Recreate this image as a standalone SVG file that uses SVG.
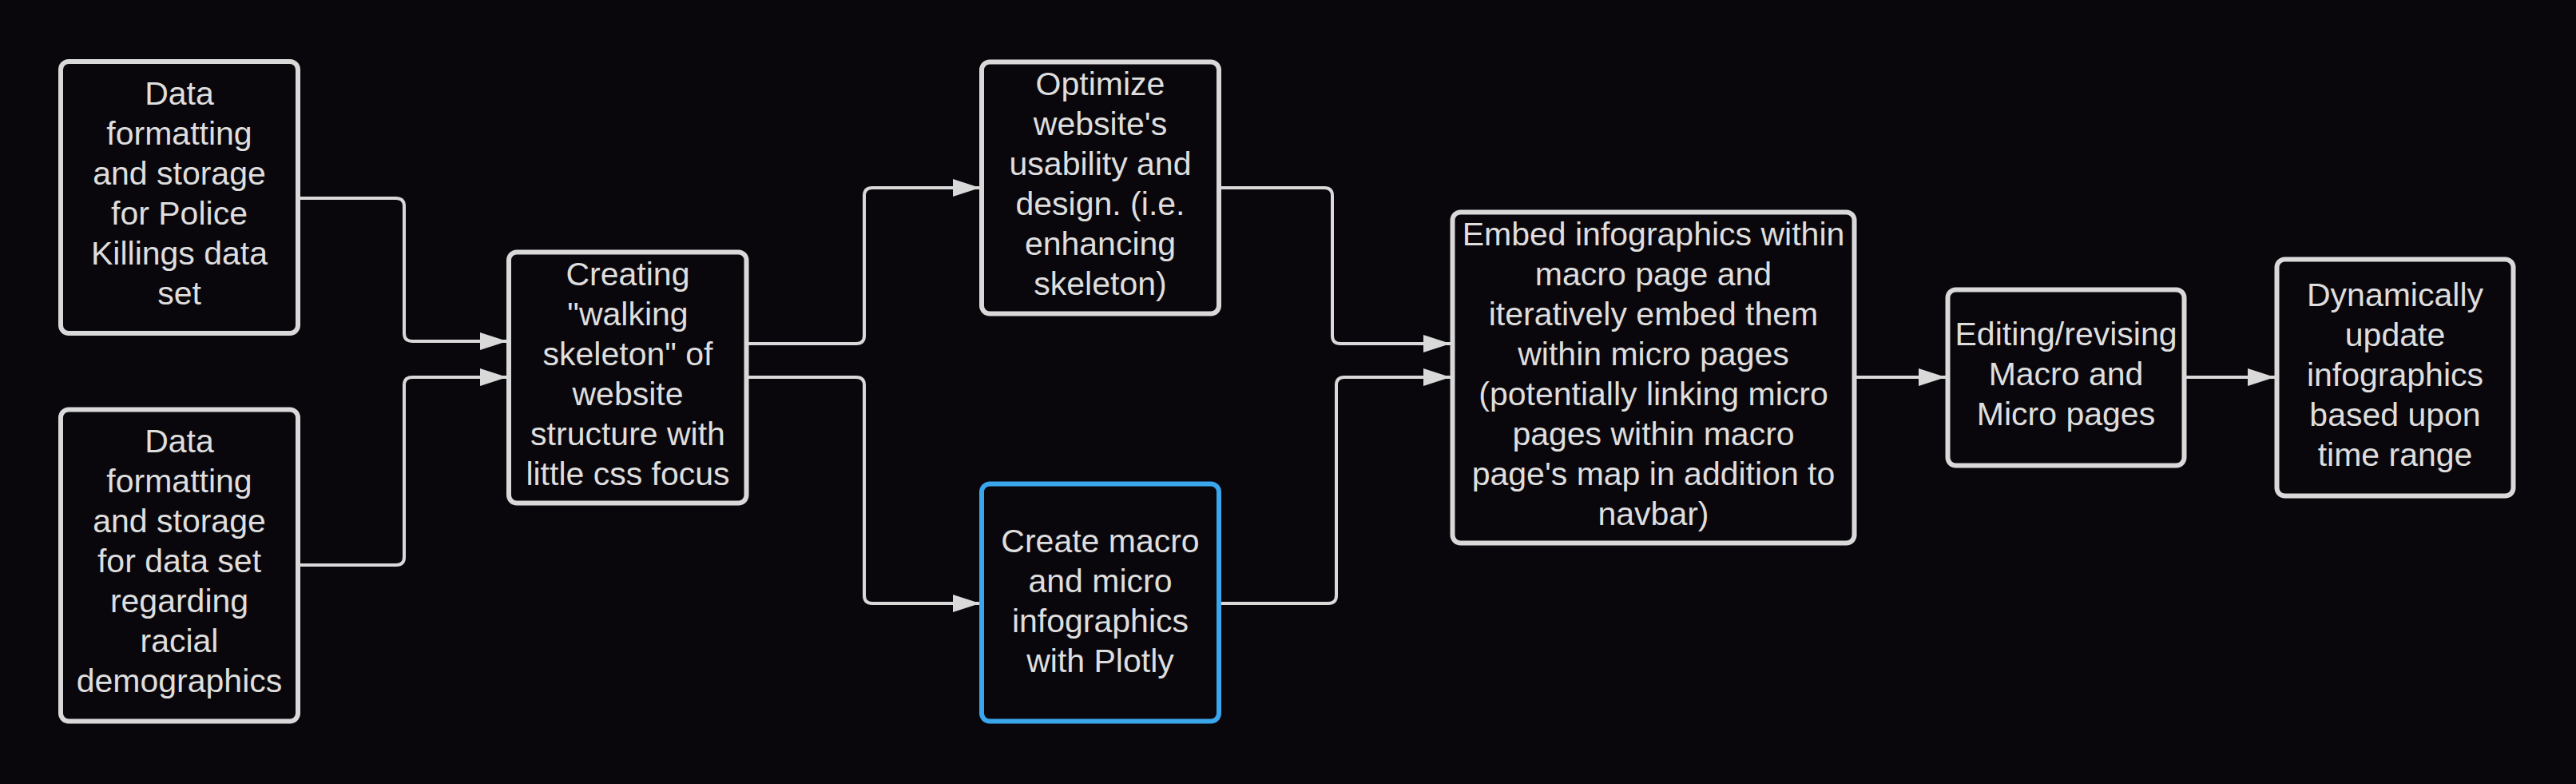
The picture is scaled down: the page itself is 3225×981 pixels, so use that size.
<svg xmlns="http://www.w3.org/2000/svg" width="3225" height="981" viewBox="0 0 3225 981">
<style>
.box{fill:#0a070c;stroke:#d9d9d9;stroke-width:6}
.blue{stroke:#3aa6ec}
.t{font-family:"Liberation Sans",Arial,sans-serif;font-size:41px;fill:#dedede;text-anchor:middle}
.c{fill:none;stroke:#d9d9d9;stroke-width:4;marker-end:url(#ah)}
</style>
<defs>
<marker id="ah" markerUnits="userSpaceOnUse" markerWidth="36" markerHeight="24" refX="34" refY="11" orient="auto">
<polygon points="0,0 34,11 0,22" fill="#d9d9d9"/>
</marker>
</defs>
<rect width="3225" height="981" fill="#0a070c"/>
<g id="connectors">
<path class="c" d="M375 248 H496 Q506 248 506 258 V417 Q506 427 516 427 H635"/>
<path class="c" d="M375 707 H496 Q506 707 506 697 V482 Q506 472 516 472 H635"/>
<path class="c" d="M937 430 H1072 Q1082 430 1082 420 V245 Q1082 235 1092 235 H1227"/>
<path class="c" d="M937 472 H1072 Q1082 472 1082 482 V745 Q1082 755 1092 755 H1227"/>
<path class="c" d="M1529 235 H1658 Q1668 235 1668 245 V420 Q1668 430 1678 430 H1816"/>
<path class="c" d="M1529 755 H1663 Q1673 755 1673 745 V482 Q1673 472 1683 472 H1816"/>
<path class="c" d="M2324 472 H2436"/>
<path class="c" d="M2737 472 H2848"/>
</g>
<g id="n1">
<rect class="box" x="76" y="77" width="297" height="340" rx="10"/>
<text class="t"><tspan x="224.5" y="131">Data</tspan><tspan x="224.5" y="181">formatting</tspan><tspan x="224.5" y="231">and storage</tspan><tspan x="224.5" y="281">for Police</tspan><tspan x="224.5" y="331">Killings data</tspan><tspan x="224.5" y="381">set</tspan></text>
</g>
<g id="n2">
<rect class="box" x="76" y="512.5" width="297" height="390" rx="10"/>
<text class="t"><tspan x="224.5" y="566">Data</tspan><tspan x="224.5" y="616">formatting</tspan><tspan x="224.5" y="666">and storage</tspan><tspan x="224.5" y="716">for data set</tspan><tspan x="224.5" y="766">regarding</tspan><tspan x="224.5" y="816">racial</tspan><tspan x="224.5" y="866">demographics</tspan></text>
</g>
<g id="n3">
<rect class="box" x="637" y="315.5" width="297.5" height="314" rx="10"/>
<text class="t"><tspan x="786" y="357">Creating</tspan><tspan x="786" y="407">"walking</tspan><tspan x="786" y="457">skeleton" of</tspan><tspan x="786" y="507">website</tspan><tspan x="786" y="557">structure with</tspan><tspan x="786" y="607">little css focus</tspan></text>
</g>
<g id="n4">
<rect class="box" x="1229" y="77.5" width="297" height="315" rx="10"/>
<text class="t"><tspan x="1377.5" y="119">Optimize</tspan><tspan x="1377.5" y="169">website's</tspan><tspan x="1377.5" y="219">usability and</tspan><tspan x="1377.5" y="269">design. (i.e.</tspan><tspan x="1377.5" y="319">enhancing</tspan><tspan x="1377.5" y="369">skeleton)</tspan></text>
</g>
<g id="n5">
<rect class="box blue" x="1229" y="605.5" width="297" height="297" rx="10"/>
<text class="t"><tspan x="1377.5" y="691">Create macro</tspan><tspan x="1377.5" y="741">and micro</tspan><tspan x="1377.5" y="791">infographics</tspan><tspan x="1377.5" y="841">with Plotly</tspan></text>
</g>
<g id="n6">
<rect class="box" x="1818.5" y="265.5" width="503" height="414" rx="10"/>
<text class="t"><tspan x="2070" y="307">Embed infographics within</tspan><tspan x="2070" y="357">macro page and</tspan><tspan x="2070" y="407">iteratively embed them</tspan><tspan x="2070" y="457">within micro pages</tspan><tspan x="2070" y="507">(potentially linking micro</tspan><tspan x="2070" y="557">pages within macro</tspan><tspan x="2070" y="607">page's map in addition to</tspan><tspan x="2070" y="657">navbar)</tspan></text>
</g>
<g id="n7">
<rect class="box" x="2438.5" y="362.5" width="296" height="220" rx="10"/>
<text class="t"><tspan x="2586.5" y="432">Editing/revising</tspan><tspan x="2586.5" y="482">Macro and</tspan><tspan x="2586.5" y="532">Micro pages</tspan></text>
</g>
<g id="n8">
<rect class="box" x="2850.5" y="324.5" width="296" height="296" rx="10"/>
<text class="t"><tspan x="2998.5" y="383">Dynamically</tspan><tspan x="2998.5" y="433">update</tspan><tspan x="2998.5" y="483">infographics</tspan><tspan x="2998.5" y="533">based upon</tspan><tspan x="2998.5" y="583">time range</tspan></text>
</g>
</svg>
